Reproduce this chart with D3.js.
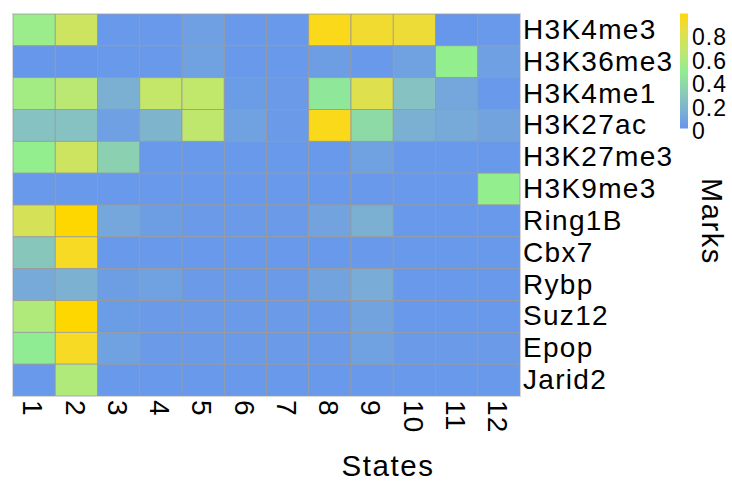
<!DOCTYPE html>
<html>
<head>
<meta charset="utf-8">
<script src="https://cdn.jsdelivr.net/npm/d3@7"></script>
<style>
  body { margin: 0; background: #fff; }
  svg { display: block; font-family: "Liberation Sans", Arial, sans-serif; }
</style>
</head>
<body>
<svg id="chart" width="732" height="484"></svg>
<script>
// Chromatin states (columns) and marks (rows)
const states = ["1","2","3","4","5","6","7","8","9","10","11","12"];
const marks = ["H3K4me3","H3K36me3","H3K4me1","H3K27ac","H3K27me3","H3K9me3",
               "Ring1B","Cbx7","Rybp","Suz12","Epop","Jarid2"];

// Emission probability of each mark in each state, one array per mark
const H3K4me3  = [0.52,0.72,0.02,0.02,0.06,0.02,0.02,0.95,0.90,0.88,0.01,0.02];
const H3K36me3 = [0.01,0.01,0.02,0.02,0.07,0.02,0.02,0.05,0.02,0.07,0.50,0.06];
const H3K4me1  = [0.55,0.64,0.15,0.68,0.67,0.04,0.03,0.45,0.80,0.25,0.10,0.02];
const H3K27ac  = [0.25,0.25,0.06,0.18,0.66,0.07,0.03,0.95,0.38,0.15,0.12,0.08];
const H3K27me3 = [0.50,0.72,0.33,0.02,0.02,0.02,0.02,0.02,0.07,0.02,0.02,0.02];
const H3K9me3  = [0.02,0.02,0.02,0.02,0.02,0.02,0.02,0.02,0.02,0.02,0.02,0.50];
const Ring1B   = [0.76,0.98,0.10,0.05,0.03,0.03,0.03,0.08,0.15,0.02,0.02,0.02];
const Cbx7     = [0.28,0.93,0.02,0.02,0.02,0.02,0.02,0.02,0.02,0.02,0.02,0.02];
const Rybp     = [0.12,0.16,0.05,0.07,0.03,0.03,0.03,0.08,0.13,0.02,0.02,0.02];
const Suz12    = [0.60,0.98,0.04,0.03,0.03,0.03,0.03,0.03,0.08,0.02,0.02,0.02];
const Epop     = [0.48,0.93,0.07,0.03,0.03,0.03,0.03,0.03,0.07,0.03,0.03,0.03];
const Jarid2   = [0.02,0.60,0.02,0.02,0.02,0.02,0.02,0.02,0.02,0.02,0.02,0.02];

const rowsData = [H3K4me3,H3K36me3,H3K4me1,H3K27ac,H3K27me3,H3K9me3,
                  Ring1B,Cbx7,Rybp,Suz12,Epop,Jarid2];

const legendTicks = [0, 0.2, 0.4, 0.6, 0.8];

const cells = [];
marks.forEach((m, i) => states.forEach((s, j) =>
  cells.push({ mark: m, state: s, value: rowsData[i][j] })));

const vmax = d3.max(cells, d => d.value);

const svg = d3.select("#chart");
const plotLeft = 13, plotRight = 520, plotTop = 14, plotBottom = 396;

const x = d3.scaleBand().domain(states).range([plotLeft, plotRight]);
const y = d3.scaleBand().domain(marks).range([plotTop, plotBottom]);

const color = d3.scaleLinear()
  .domain([0, vmax / 2, vmax])
  .range(["#6495ED", "#90EE90", "#FFD700"])
  .interpolate(d3.interpolateLab);

// Heatmap tiles
svg.append("g").selectAll("rect").data(cells).join("rect")
  .attr("x", d => x(d.state))
  .attr("y", d => y(d.mark))
  .attr("width", x.bandwidth())
  .attr("height", y.bandwidth())
  .attr("fill", d => color(d.value))
  .attr("stroke", "#9a9a9a")
  .attr("stroke-width", 0.8);

// light frame around the panel
svg.append("rect")
  .attr("x", plotLeft - 0.5).attr("y", plotTop - 0.5)
  .attr("width", plotRight - plotLeft + 1).attr("height", plotBottom - plotTop + 1)
  .attr("fill", "none")
  .attr("stroke", "#d8d8d8")
  .attr("stroke-width", 1);

// Row labels on the right
const yAxis = svg.append("g")
  .attr("transform", `translate(${plotRight},0)`)
  .call(d3.axisRight(y).tickSize(0).tickPadding(3));
yAxis.select(".domain").remove();
yAxis.selectAll("text")
  .attr("font-size", 28)
  .attr("letter-spacing", 1.3)
  .attr("font-family", "Liberation Sans, Arial, sans-serif")
  .attr("fill", "#000");

// Column labels, rotated
const xAxis = svg.append("g")
  .attr("transform", `translate(0,${plotBottom})`)
  .call(d3.axisBottom(x).tickSize(0));
xAxis.select(".domain").remove();
xAxis.selectAll("text")
  .attr("font-size", 28)
  .attr("letter-spacing", 1.3)
  .attr("font-family", "Liberation Sans, Arial, sans-serif")
  .attr("fill", "#000")
  .attr("text-anchor", "start")
  .attr("dy", "0.35em")
  .attr("transform", "translate(-1,4) rotate(90)")
  .attr("x", 0)
  .attr("y", 0);

// Axis titles
svg.append("text")
  .attr("x", 388).attr("y", 476)
  .attr("text-anchor", "middle")
  .attr("font-size", 29.5)
  .attr("letter-spacing", 1.6)
  .text("States");

svg.append("text")
  .attr("transform", "translate(702,221.5) rotate(90)")
  .attr("text-anchor", "middle")
  .attr("font-size", 29)
  .attr("letter-spacing", 1.6)
  .text("Marks");

// Colour bar
const barX = 680, barW = 8, barTop = 13.5, barBottom = 128.5;
const legY = d3.scaleLinear().domain([0, vmax]).range([barBottom, barTop]);

const defs = svg.append("defs");
const grad = defs.append("linearGradient")
  .attr("id", "legendGrad")
  .attr("x1", 0).attr("y1", 1).attr("x2", 0).attr("y2", 0);
d3.range(0, 1.0001, 0.05).forEach(t => {
  grad.append("stop")
    .attr("offset", t)
    .attr("stop-color", color(t * vmax));
});

svg.append("rect")
  .attr("x", barX).attr("y", barTop)
  .attr("width", barW).attr("height", barBottom - barTop)
  .attr("fill", "url(#legendGrad)");

const legAxis = svg.append("g")
  .attr("transform", `translate(${barX + barW},3)`)
  .call(d3.axisRight(legY).tickValues(legendTicks)
    .tickFormat(d => d === 0 ? "0" : d3.format(".1f")(d))
    .tickSize(0).tickPadding(4));
legAxis.select(".domain").remove();
legAxis.selectAll("text")
  .attr("font-size", 23)
  .attr("letter-spacing", 1)
  .attr("font-family", "Liberation Sans, Arial, sans-serif")
  .attr("fill", "#000");
</script>
</body>
</html>
